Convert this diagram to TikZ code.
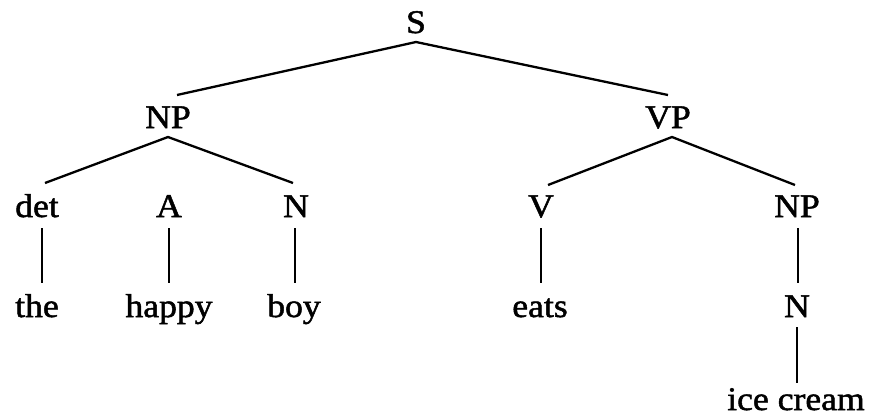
\documentclass[tikz,border=0pt]{standalone}
\usepackage{fontspec}
\setmainfont{Liberation Serif}[FakeStretch=1.08,FakeBold=1.5]
\begin{document}
\begin{tikzpicture}[x=1pt,y=-1pt,
  lbl/.style={anchor=base,inner sep=0pt,font=\fontsize{33}{40}\selectfont},
  br/.style={line width=2.3pt}]
\useasboundingbox (0,0) rectangle (871,416);
% nodes
\node[lbl] (S)   at (416,33)  {S};
\node[lbl] (NP)  at (168,128) {NP};
\node[lbl] (VP)  at (668,128) {VP};
\node[lbl] (det) at (37,217)  {det};
\node[lbl] (A)   at (169,217) {A};
\node[lbl] (N)   at (296,217) {N};
\node[lbl] (V)   at (541,217) {V};
\node[lbl] (NPb) at (797,217) {NP};
\node[lbl] (the)   at (37,317)  {the};
\node[lbl] (happy) at (169,317) {happy};
\node[lbl] (boy)   at (294,317) {boy};
\node[lbl] (eats)  at (540,317) {eats};
\node[lbl] (Nb)    at (797,317) {N};
\node[lbl] (ice)   at (796,410) {ice cream};
% branches
\draw[br] ([xshift=9pt,yshift=33pt]NP.base) -- ([yshift=-9pt]S.base) -- ([yshift=33pt]VP.base);
\draw[br] ([xshift=8pt,yshift=34pt]det.base) -- ([yshift=-9pt]NP.base) -- ([xshift=-3pt,yshift=34pt]N.base);
\draw[br] ([xshift=7pt,yshift=32pt]V.base) -- ([xshift=4pt,yshift=-9pt]VP.base) -- ([xshift=-2pt,yshift=32pt]NPb.base);
\draw[br] ([xshift=5pt,yshift=-11pt]det.base) -- ([xshift=5pt,yshift=34pt]the.base);
\draw[br] ([yshift=-11pt]A.base) -- ([yshift=34pt]happy.base);
\draw[br] ([xshift=-1pt,yshift=-11pt]N.base) -- ([xshift=1pt,yshift=34pt]boy.base);
\draw[br] ([yshift=-11pt]V.base) -- ([xshift=1pt,yshift=34pt]eats.base);
\draw[br] ([xshift=1pt,yshift=-11pt]NPb.base) -- ([xshift=1pt,yshift=34pt]Nb.base);
\draw[br] ([yshift=-10pt]Nb.base) -- ([xshift=1pt,yshift=27pt]ice.base);
\end{tikzpicture}
\end{document}
